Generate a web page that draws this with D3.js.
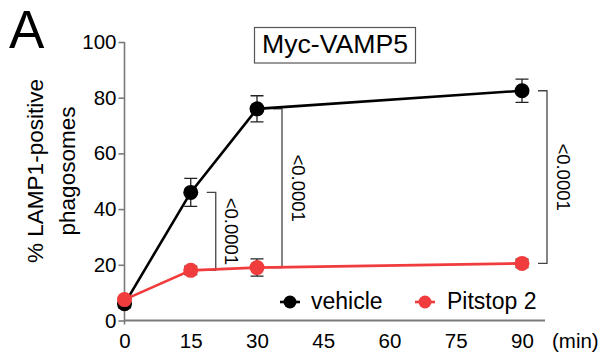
<!DOCTYPE html>
<html>
<head>
<meta charset="utf-8">
<script src="https://cdn.jsdelivr.net/npm/d3@7"></script>
<style>
html,body{margin:0;padding:0;background:#fff;}
svg{display:block;font-family:"Liberation Sans",Arial,sans-serif;}
</style>
</head>
<body>
<svg id="chart" width="600" height="356"></svg>
<script>
// ---- data ----
const times = [0, 15, 30, 90];
const vehicleMean = [6, 46, 76, 82.5];
const vehicleErr = [1.5, 5, 4.7, 4.2];
const pitstopMean = [7.5, 18, 19, 20.5];
const pitstopErr = [1, 1.5, 3.1, 1.5];
const yTicks = [0, 20, 40, 60, 80, 100];
const xTicks = [0, 15, 30, 45, 60, 75, 90];
const seriesNames = ["vehicle", "Pitstop 2"];
const bracketTimes = [15, 30, 90];
const bracketLabels = ["<0.0001", "<0.0001", "<0.0001"];
const yLabelLines = ["% LAMP1-positive", "phagosomes"];
const titleText = "Myc-VAMP5";
const panelLetter = "A";
const xUnit = "(min)";

const colors = ["#000000", "#f03c3c"];
const svg = d3.select("#chart");

const x = d3.scaleLinear().domain([0, 90]).range([124.5, 522]);
const y = d3.scaleLinear().domain([0, 100]).range([320.5, 42]);

// axes
const axisColor = "#7a7a7a";
const yAxis = svg.append("g").attr("transform", `translate(${x(0)},0)`)
  .call(d3.axisLeft(y).tickValues(yTicks).tickSize(6).tickPadding(2).tickSizeOuter(0));
yAxis.select(".domain").attr("stroke", axisColor).attr("stroke-width", 1.6)
  .attr("d", `M0,${y(100)}V${y(0) + 4}`);
yAxis.selectAll(".tick line").attr("stroke", axisColor).attr("stroke-width", 1.6);
yAxis.selectAll(".tick text").attr("fill", "#000").style("font-size", "20.5px")
  .attr("font-family", "Liberation Sans, Arial, sans-serif");

const xAxis = svg.append("g").attr("transform", `translate(0,${y(0)})`)
  .call(d3.axisBottom(x).tickValues(xTicks).tickSize(0).tickPadding(13).tickSizeOuter(0));
xAxis.select(".domain").attr("stroke", axisColor).attr("stroke-width", 2)
  .attr("d", `M${x(0)},0H545`);
xAxis.selectAll(".tick text").attr("fill", "#000").style("font-size", "20.5px")
  .attr("font-family", "Liberation Sans, Arial, sans-serif");

svg.append("text").attr("x", 552).attr("y", 348).attr("font-size", 20.5).text(xUnit);

// y label
const yl = svg.append("text").attr("transform", "translate(0,171) rotate(-90)")
  .attr("text-anchor", "middle").attr("font-size", 22.5);
yl.append("tspan").attr("x", 0).attr("y", 43).text(yLabelLines[0]);
yl.append("tspan").attr("x", 0).attr("y", 75).text(yLabelLines[1]);

// panel letter
svg.append("text").attr("x", 9).attr("y", 48).attr("font-size", 53).text(panelLetter);

// title box
svg.append("rect").attr("x", 254.5).attr("y", 27.5).attr("width", 161).attr("height", 35.5)
  .attr("fill", "none").attr("stroke", "#555").attr("stroke-width", 1.2);
svg.append("text").attr("x", 335).attr("y", 53).attr("text-anchor", "middle")
  .attr("font-size", 26).attr("textLength", 146).attr("lengthAdjust", "spacingAndGlyphs")
  .text(titleText);

// brackets
const bracketColor = "#444";
bracketTimes.forEach((t, k) => {
  const i = times.indexOf(t);
  const bx = x(t) + 25;
  const y1 = y(vehicleMean[i]), y2 = y(pitstopMean[i]);
  svg.append("path").attr("d", `M${bx - 9},${y1}H${bx}V${y2}H${bx - 9}`)
    .attr("fill", "none").attr("stroke", bracketColor).attr("stroke-width", 1.3);
  svg.append("text")
    .attr("transform", `translate(${bx + 16},${(y1 + y2) / 2}) rotate(90)`)
    .attr("text-anchor", "middle").attr("dominant-baseline", "central")
    .attr("font-size", 18.5).text(bracketLabels[k]);
});

// series
const series = [
  {name: seriesNames[0], mean: vehicleMean, err: vehicleErr, color: colors[0]},
  {name: seriesNames[1], mean: pitstopMean, err: pitstopErr, color: colors[1]}
];
const line = d3.line().x((d, i) => x(times[i])).y(d => y(d));
series.forEach(s => {
  const g = svg.append("g");
  times.forEach((t, i) => {
    const cx = x(t), hi = y(s.mean[i] + s.err[i]), lo = y(s.mean[i] - s.err[i]);
    g.append("path").attr("d", `M${cx},${hi}V${lo}M${cx - 6.5},${hi}H${cx + 6.5}M${cx - 6.5},${lo}H${cx + 6.5}`)
      .attr("stroke", "#222").attr("stroke-width", 1.3).attr("fill", "none");
  });
  svg.append("path").datum(s.mean).attr("d", line)
    .attr("fill", "none").attr("stroke", s.color).attr("stroke-width", 2.6);
  svg.append("g").selectAll("circle").data(s.mean).join("circle")
    .attr("cx", (d, i) => x(times[i])).attr("cy", d => y(d)).attr("r", 7.5)
    .attr("fill", s.color);
});

// legend
const legendItems = [{x: 290, tx: 311}, {x: 425, tx: 447}];
series.forEach((s, k) => {
  const L = legendItems[k];
  svg.append("line").attr("x1", L.x - 10).attr("x2", L.x + 10).attr("y1", 302).attr("y2", 302)
    .attr("stroke", s.color).attr("stroke-width", 2.6);
  svg.append("circle").attr("cx", L.x).attr("cy", 302).attr("r", 6.5).attr("fill", s.color);
  svg.append("text").attr("x", L.tx).attr("y", 309).attr("font-size", 23).text(s.name);
});
</script>
</body>
</html>
